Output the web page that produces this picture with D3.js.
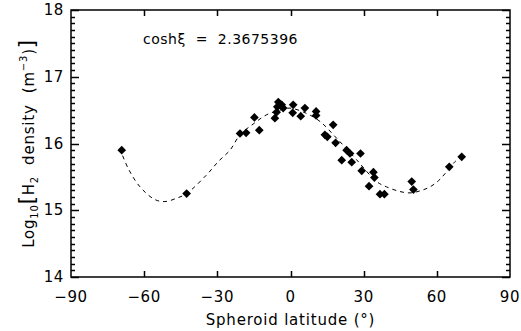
<!DOCTYPE html>
<html>
<head>
<meta charset="utf-8">
<script src="https://cdn.jsdelivr.net/npm/d3@7"></script>
<style>
  body { margin: 0; background: #fff; }
  svg text { font-family: "DejaVu Sans", "Liberation Sans", sans-serif; fill: #000; }
</style>
</head>
<body>
<svg width="521" height="331"></svg>
<script>
// measured points: spheroid latitude (deg) and log10 H2 density
const pointLat = [-69.2, -42.6, -20.7, -18.2, -14.8, -12.8, -6.4, -5.7, -5.4, -5.0, -3.6, -3.0,
  1.1, 0.9, 4.2, 5.9, 10.5, 10.5, 17.5, 14.1, 15.1, 18.5, 23.0, 24.4, 28.7, 21.0, 25.1,
  29.2, 34.0, 34.4, 32.2, 36.7, 38.5, 49.7, 50.4, 65.1, 70.2];
const pointVal = [15.90, 15.25, 16.15, 16.16, 16.39, 16.20, 16.38, 16.47, 16.55, 16.62, 16.58, 16.53,
  16.58, 16.46, 16.41, 16.53, 16.48, 16.42, 16.28, 16.13, 16.10, 16.01, 15.90, 15.85, 15.85, 15.75, 15.72,
  15.59, 15.57, 15.49, 15.36, 15.24, 15.24, 15.43, 15.31, 15.65, 15.80];

// fitted curve
const fitLat = [-70, -66.6, -61.7, -55.6, -51.5, -46.7, -42.6, -34.4, -29.6, -24.8, -20.7, -15, -9.8,
  -4.3, -0.2, 6.6, 12.1, 18.9, 27, 35.3, 39.4, 44.9, 49, 53.1, 57.2, 60.6, 63.4, 67.5, 70.2];
const fitVal = [15.93, 15.63, 15.35, 15.16, 15.13, 15.18, 15.25, 15.53, 15.73, 15.90, 16.13, 16.30, 16.43,
  16.50, 16.53, 16.45, 16.33, 16.08, 15.76, 15.43, 15.35, 15.28, 15.26, 15.29, 15.35, 15.44, 15.55, 15.73, 15.80];

const xTicks = [-90, -60, -30, 0, 30, 60, 90];
const yTicks = [14, 15, 16, 17, 18];
const annotation = "cosh\u03be  =  2.3675396";

const width = 521, height = 331;
const margin = { top: 10, right: 11, bottom: 54, left: 71 };

const svg = d3.select("svg");

const x = d3.scaleLinear().domain([-90, 90]).range([margin.left, width - margin.right]);
const y = d3.scaleLinear().domain([14, 18]).range([height - margin.bottom, margin.top]);

const minorY = d3.range(141, 180).map(d => d / 10).filter(d => !yTicks.includes(d));
const fmtX = d => d < 0 ? "\u2212" + Math.abs(d) : String(d);
const px = v => Math.round(v) + 0.5; // snap 1px lines to the pixel grid

// frame
svg.append("rect")
  .attr("x", x(-90)).attr("y", y(18))
  .attr("width", x(90) - x(-90)).attr("height", y(14) - y(18))
  .attr("fill", "none").attr("stroke", "#000").attr("stroke-width", 1.5);

// all ticks as one path, pointing inward
const tp = d3.path();
xTicks.slice(1, -1).forEach(d => {
  tp.moveTo(px(x(d)), y(14)); tp.lineTo(px(x(d)), y(14) - 6);
  tp.moveTo(px(x(d)), y(18)); tp.lineTo(px(x(d)), y(18) + 6);
});
minorY.forEach(d => {
  tp.moveTo(x(-90), px(y(d))); tp.lineTo(x(-90) + 4, px(y(d)));
  tp.moveTo(x(90), px(y(d))); tp.lineTo(x(90) - 4, px(y(d)));
});
yTicks.forEach(d => {
  tp.moveTo(x(-90), px(y(d))); tp.lineTo(x(-90) + 8, px(y(d)));
  tp.moveTo(x(90), px(y(d))); tp.lineTo(x(90) - 8, px(y(d)));
});
svg.append("path")
  .attr("d", tp.toString())
  .attr("fill", "none")
  .attr("stroke", "#000")
  .attr("stroke-width", 1.5);

// tick labels
svg.append("g").selectAll("text").data(xTicks).join("text")
  .attr("x", d => x(d)).attr("y", 302)
  .attr("text-anchor", "middle")
  .attr("font-size", 15)
  .attr("letter-spacing", 0.6)
  .text(fmtX);

svg.append("g").selectAll("text").data(yTicks).join("text")
  .attr("x", 64).attr("y", d => y(d) + 5)
  .attr("text-anchor", "end")
  .attr("font-size", 15)
  .attr("letter-spacing", 0.6)
  .text(d => d);

// dashed fit
const line = d3.line()
  .x(d => x(d[0]))
  .y(d => y(d[1]))
  .curve(d3.curveCatmullRom);

svg.append("path")
  .datum(fitLat.map((d, i) => [d, fitVal[i]]))
  .attr("d", line)
  .attr("fill", "none")
  .attr("stroke", "#000")
  .attr("stroke-width", 1)
  .attr("stroke-dasharray", "4,4");

// diamonds
const diamond = d3.symbol().type(d3.symbolSquare).size(38);
svg.append("g")
  .selectAll("path")
  .data(pointLat.map((d, i) => [d, pointVal[i]]))
  .join("path")
  .attr("d", diamond)
  .attr("transform", d => `translate(${x(d[0])},${y(d[1])}) rotate(45)`)
  .attr("fill", "#000");

// annotation
svg.append("text")
  .attr("x", 143).attr("y", 44)
  .attr("font-size", 14)
  .attr("letter-spacing", 0.5)
  .attr("xml:space", "preserve")
  .text(annotation);

// axis titles
svg.append("text")
  .attr("x", x(0)).attr("y", 325)
  .attr("text-anchor", "middle")
  .attr("font-size", 15)
  .attr("letter-spacing", 0.8)
  .text("Spheroid latitude (\u00b0)");

const yl = svg.append("text")
  .attr("transform", `translate(34,${(y(14) + y(18)) / 2}) rotate(-90)`)
  .attr("text-anchor", "middle")
  .attr("font-size", 15)
  .attr("letter-spacing", 0.8)
  .attr("xml:space", "preserve");
yl.append("tspan").text("Log");
yl.append("tspan").attr("font-size", 10).attr("dy", 4).text("10");
yl.append("tspan").attr("dy", -4).attr("font-size", 21).text("[");
yl.append("tspan").text("H");
yl.append("tspan").attr("font-size", 10).attr("dy", 4).text("2");
yl.append("tspan").attr("dy", -4).text("  density  (m");
yl.append("tspan").attr("font-size", 10).attr("dy", -7).text("\u22123");
yl.append("tspan").attr("dy", 7).text(")");
yl.append("tspan").attr("font-size", 21).text("]");
</script>
</body>
</html>
